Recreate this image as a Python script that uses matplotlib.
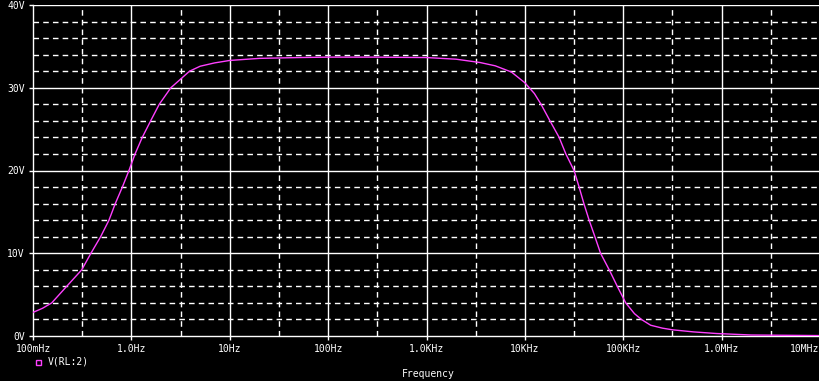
import matplotlib
matplotlib.use('Agg')
import matplotlib.pyplot as plt
import matplotlib.transforms as mtransforms
from matplotlib.patches import Rectangle

# frequency response (Hz, V)
freqs = [0.1, 0.125, 0.155, 0.22, 0.313, 0.388, 0.487, 0.592, 0.686, 0.81, 0.945, 1.09,
         1.29, 1.57, 1.92, 2.52, 3.9, 5.0, 7.0, 10, 20, 50, 100, 300, 1000, 2000,
         3500, 5000, 7300, 10000, 12500, 14600, 18000, 22300, 26100, 31600, 35600, 39800,
         45000, 51500, 58800, 72000, 87000, 106000, 130000, 153000, 190000, 250000, 316000,
         513000, 887000, 2.0e6, 1.0e7]
volts = [2.85, 3.35, 4.0, 6.0, 8.0, 10.0, 12.0, 14.0, 16.0, 18.0, 20.0, 22.0,
         24.0, 26.0, 28.0, 30.0, 32.0, 32.6, 33.0, 33.3, 33.55, 33.65, 33.7, 33.7, 33.65, 33.45,
         33.05, 32.65, 31.9, 30.6, 29.3, 28.0, 26.0, 24.0, 22.0, 20.0, 18.0, 16.0,
         14.0, 12.0, 10.0, 8.0, 6.0, 4.0, 2.7, 2.0, 1.3, 0.95, 0.75,
         0.5, 0.3, 0.12, 0.05]

xticks = [0.1, 1, 10, 100, 1e3, 1e4, 1e5, 1e6, 1e7]
xlabels = ['100mHz', '1.0Hz', '10Hz', '100Hz', '1.0KHz', '10KHz', '100KHz', '1.0MHz', '10MHz']
yticks = [0, 10, 20, 30, 40]
ylabels = ['0V', '10V', '20V', '30V', '40V']

font = 'DejaVu Sans Mono'
fg = 'white'
trace = '#ff40ff'

fig = plt.figure(figsize=(8.19, 3.81), dpi=100, facecolor='black')
ax = fig.add_axes([33 / 819, 1 - 336 / 381, 787 / 819, 331 / 381])
ax.set_facecolor('black')

ax.set_xscale('log')
ax.set_xlim(0.1, 1e7)
ax.set_ylim(0, 40)

# minor dashed grid: half decades and every 2V
for k in range(-1, 7):
    ax.axvline(10 ** (k + 0.5), color=fg, lw=1, ls=(0, (4, 3)), zorder=1)
for v in range(2, 40, 2):
    if v % 10:
        ax.axhline(v, color=fg, lw=1, ls=(0, (4, 3)), zorder=1)
# major solid grid
for f in xticks[1:-1]:
    ax.axvline(f, color=fg, lw=1, zorder=1)
for v in yticks[1:]:
    ax.axhline(v, color=fg, lw=1, zorder=1)

ax.plot(freqs, volts, color=trace, lw=1, zorder=3)

ax.set_xticks(xticks)
ax.set_xticklabels(xlabels, fontfamily=font, fontsize=7, color=fg)
ax.xaxis.set_minor_locator(matplotlib.ticker.NullLocator())
ax.set_yticks(yticks)
ax.set_yticklabels(ylabels, fontfamily=font, fontsize=7, color=fg)
ax.tick_params(axis='both', colors=fg, length=3, width=1, pad=3)

# the last frequency label is pulled inside the window, as PSpice does
last = ax.get_xticklabels()[-1]
last.set_transform(last.get_transform() +
                   mtransforms.ScaledTranslation(-15 / 100, 0, fig.dpi_scale_trans))

for s in ['top', 'right']:
    ax.spines[s].set_visible(False)
for s in ['left', 'bottom']:
    ax.spines[s].set_color(fg)
    ax.spines[s].set_linewidth(1)

# legend and axis title as in the probe window
fig.patches.append(Rectangle((36 / 819, 1 - 364.5 / 381), 5 / 819, 5 / 381,
                             transform=fig.transFigure, fill=False,
                             edgecolor=trace, lw=1))
fig.text(48 / 819, 1 - 362 / 381, 'V(RL:2)', color=fg, fontsize=7,
         fontfamily=font, ha='left', va='center')
fig.text(428 / 819, 1 - 374 / 381, 'Frequency', color=fg, fontsize=7,
         fontfamily=font, ha='center', va='center')

fig.savefig('out.png', dpi=100, facecolor='black')
